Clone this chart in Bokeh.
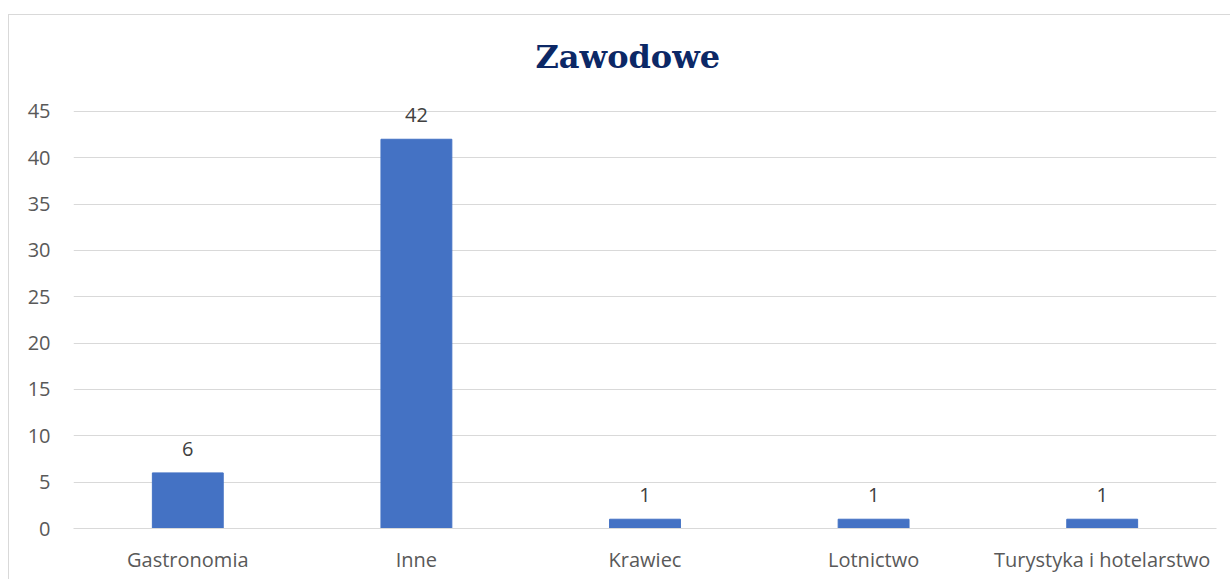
from bokeh.plotting import figure
from bokeh.models import ColumnDataSource, LabelSet, FixedTicker, Range1d
from bokeh.core.properties import value
from bokeh.embed import file_html
from bokeh.resources import INLINE

categories = ["Gastronomia", "Inne", "Krawiec", "Lotnictwo", "Turystyka i hotelarstwo"]
values = [6, 42, 1, 1, 1]
labels = [str(v) for v in values]
y_ticks = [0, 5, 10, 15, 20, 25, 30, 35, 40, 45]
title_text = "Zawodowe"

src = ColumnDataSource(data=dict(cat=categories, val=values, lab=labels))

# y range slightly above 45 so the "42" data label is not clipped; 45 gridline stays at the same place
p = figure(x_range=categories, y_range=Range1d(0, 46.83), width=1222, height=565,
           output_backend="svg", toolbar_location=None, tools="",
           min_border_left=64, min_border_right=15, min_border_top=79, min_border_bottom=52)
p.styles = {"margin-top": "14px", "margin-left": "8px",
            "border-top": "1px solid #d9d9d9", "border-left": "1px solid #d9d9d9"}

p.title.text = title_text
p.title.align = "left"
p.title.offset = 462
p.title.text_font = "DejaVu Serif"
p.title.text_font_style = "bold"
p.title.text_font_size = "32px"
p.title.text_color = "#0c2866"
p.title.standoff = 38

p.vbar(x="cat", top="val", width=0.31, source=src, fill_color="#4472C4", line_color="#4472C4")

lbl = LabelSet(x="cat", y="val", text="lab", source=src, text_align="center", text_baseline="bottom",
               y_offset=17, text_font=value("Open Sans"), text_font_size=value("20px"),
               text_color="#404040")
p.add_layout(lbl)

p.outline_line_color = None
p.background_fill_color = "white"
p.border_fill_color = "white"

p.xgrid.grid_line_color = None
p.ygrid.grid_line_color = "#d9d9d9"
p.ygrid.grid_line_width = 1

p.yaxis.ticker = FixedTicker(ticks=y_ticks)
p.yaxis.axis_line_color = None
p.yaxis.major_tick_line_color = None
p.yaxis.minor_tick_line_color = None
p.yaxis.major_tick_out = 0
p.yaxis.major_label_standoff = 23
p.yaxis.major_label_text_font = "Open Sans"
p.yaxis.major_label_text_font_size = "20px"
p.yaxis.major_label_text_color = "#595959"

p.xaxis.axis_line_color = "#d9d9d9"
p.xaxis.major_tick_line_color = None
p.xaxis.minor_tick_line_color = None
p.xaxis.major_tick_out = 0
p.xaxis.major_label_standoff = 17
p.xaxis.major_label_text_font = "Open Sans"
p.xaxis.major_label_text_font_size = "20px"
p.xaxis.major_label_text_color = "#595959"

open("out.html", "w").write(file_html(p, INLINE))
